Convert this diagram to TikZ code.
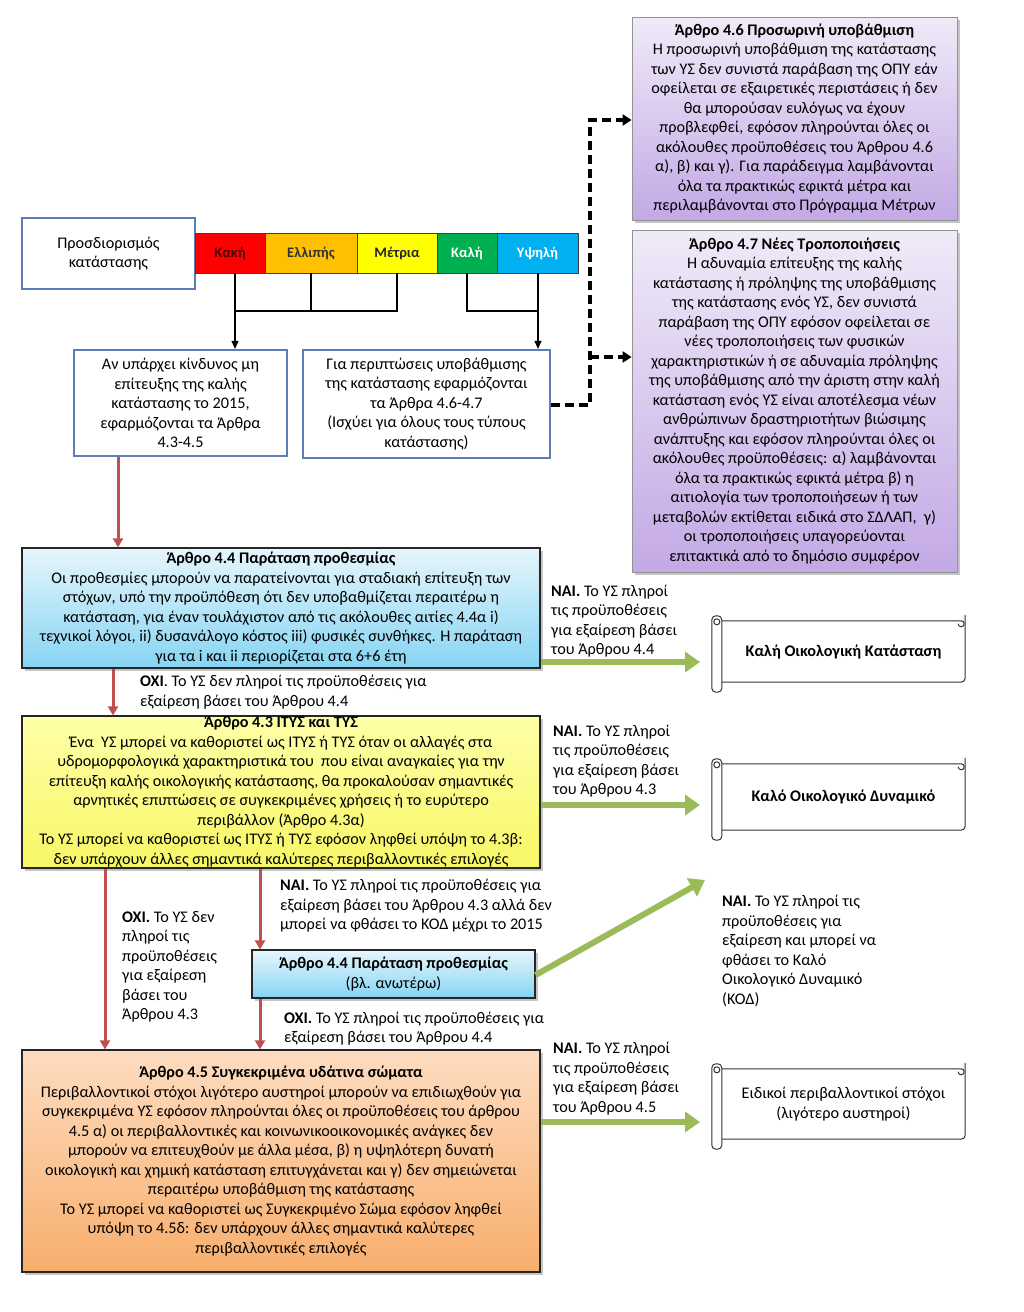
\documentclass[tikz,border=0pt]{standalone}
\usepackage{fontspec}
\setmainfont{Carlito}
\usetikzlibrary{shadows,arrows.meta,calc}
\definecolor{redA}{HTML}{C0504D}
\definecolor{greenA}{HTML}{9BBB59}
\definecolor{blueB}{HTML}{5B7FB5}
\definecolor{purpTop}{HTML}{F0EAF8}
\definecolor{purpBot}{HTML}{C3A9E5}
\definecolor{cyTop}{HTML}{E6F6FC}
\definecolor{cyBot}{HTML}{86D4F3}
\definecolor{yeTop}{HTML}{FFFFA8}
\definecolor{yeBot}{HTML}{F7F766}
\definecolor{orTop}{HTML}{FDDCC0}
\definecolor{orBot}{HTML}{F8AE6C}
\definecolor{segR}{HTML}{FF0000}
\definecolor{segO}{HTML}{FFC000}
\definecolor{segY}{HTML}{FFFF00}
\definecolor{segG}{HTML}{00B050}
\definecolor{segC}{HTML}{00B0F0}
\newcommand\drawscroll[1]{%
  \draw[scrollline,rounded corners=4pt] ($(#1.north east)+(0,-6)$) -- (#1.south east) -- (#1.south west);
  \draw[scrollline] (#1.north west) -- ($(#1.north east)+(-4,0)$) arc[start angle=270, end angle=450, x radius=3pt, y radius=-3pt] arc[start angle=90, end angle=180, x radius=3pt, y radius=-3pt];
  \draw[scrollline,fill=white,rounded corners=4pt] ($(#1.north west)+(-10,-5)$) rectangle ($(#1.south west)+(0,10)$);
  \draw[scrollline] ($(#1.north west)+(-5,1)$) circle (3pt);
}
\begin{document}
\begin{tikzpicture}[x=1pt,y=-1pt,
  txt/.style={font=\fontsize{16.2}{19.5}\selectfont, align=center, inner sep=0pt},
  lbl/.style={font=\fontsize{16.2}{19.5}\selectfont, align=left, inner sep=0pt, anchor=west},
  shad/.style={drop shadow={shadow xshift=2.5pt, shadow yshift=-2.5pt, opacity=0.45}},
  bluebox/.style={txt, draw=blueB, line width=2.2pt, fill=white},
  purplebox/.style={txt, draw=gray!85, line width=0.8pt, top color=purpTop, bottom color=purpBot, shad},
  cyanbox/.style={txt, draw=black!85, line width=1.2pt, top color=cyTop, bottom color=cyBot, shad},
  yellowbox/.style={txt, draw=black!85, line width=1.2pt, top color=yeTop, bottom color=yeBot, shad},
  orangebox/.style={txt, draw=black!85, line width=1.2pt, top color=orTop, bottom color=orBot, shad},
  seg/.style={draw=black!75, line width=0.8pt, minimum height=40pt, inner sep=0pt, font=\fontsize{14.5}{16}\selectfont\bfseries},
  scrollnode/.style={txt, fill=white, inner sep=0pt},
  scrollline/.style={draw=black!80, line width=1pt},
  blk/.style={draw=black, line width=1.1pt},
  blkarrow/.style={blk, -{Triangle[width=7pt,length=8pt]}},
  redarrow/.style={draw=redA, line width=3pt, -{Triangle[width=10pt,length=9pt]}},
  greenarrow/.style={draw=greenA, line width=6pt, -{Triangle[width=20pt,length=15pt]}},
  dashline/.style={draw=black, line width=3.5pt, dash pattern=on 9pt off 5pt},
  dasharrow/.style={dashline, -{Triangle[width=11pt,length=9pt]}}
]
\useasboundingbox (0,0) rectangle (1024,1312);
\fill[white] (0,0) rectangle (1024,1312);

% purple boxes
\node[purplebox, minimum width=325pt, minimum height=203pt] (p46) at (794.5,118.5) {%
\textbf{Άρθρο 4.6 Προσωρινή υποβάθμιση}\\
Η προσωρινή υποβάθμιση της κατάστασης\\
των ΥΣ δεν συνιστά παράβαση της ΟΠΥ εάν\\
οφείλεται σε εξαιρετικές περιστάσεις ή δεν\\
θα μπορούσαν ευλόγως να έχουν\\
προβλεφθεί, εφόσον πληρούνται όλες οι\\
ακόλουθες προϋποθέσεις του Άρθρου 4.6\\
α), β) και γ). Για παράδειγμα λαμβάνονται\\
όλα τα πρακτικώς εφικτά μέτρα και\\
περιλαμβάνονται στο Πρόγραμμα Μέτρων};
\node[purplebox, minimum width=325pt, minimum height=342pt] (p47) at (794.5,401) {%
\textbf{Άρθρο 4.7 Νέες Τροποποιήσεις}\\
Η αδυναμία επίτευξης της καλής\\
κατάστασης ή πρόληψης της υποβάθμισης\\
της κατάστασης ενός ΥΣ, δεν συνιστά\\
παράβαση της ΟΠΥ εφόσον οφείλεται σε\\
νέες τροποποιήσεις των φυσικών\\
χαρακτηριστικών ή σε αδυναμία πρόληψης\\
της υποβάθμισης από την άριστη στην καλή\\
κατάσταση ενός ΥΣ είναι αποτέλεσμα νέων\\
ανθρώπινων δραστηριοτήτων βιώσιμης\\
ανάπτυξης και εφόσον πληρούνται όλες οι\\
ακόλουθες προϋποθέσεις: α) λαμβάνονται\\
όλα τα πρακτικώς εφικτά μέτρα β) η\\
αιτιολογία των τροποποιήσεων ή των\\
μεταβολών εκτίθεται ειδικά στο ΣΔΛΑΠ,\ \ γ)\\
οι τροποποιήσεις υπαγορεύονται\\
επιτακτικά από το δημόσιο συμφέρον};

% status row
\node[bluebox, minimum width=173pt, minimum height=71pt] (st) at (108.5,253.5) {Προσδιορισμός\\κατάστασης};
\node[seg, fill=segR, minimum width=70pt, text=black!70!red] (sK) at (230,253) {Κακή};
\node[seg, fill=segO, minimum width=92pt, text=black!80] (sE) at (311,253) {Ελλιπής};
\node[seg, fill=segY, minimum width=80pt, text=black!85] (sM) at (397,253) {Μέτρια};
\node[seg, fill=segG, minimum width=60pt, text=white] (sKa) at (467,253) {Καλή};
\node[seg, fill=segC, minimum width=81pt, text=white] (sY) at (537.5,253) {Υψηλή};

% blue boxes
\node[bluebox, minimum width=213pt, minimum height=106pt] (pA) at (180.5,403) {%
Αν υπάρχει κίνδυνος μη\\επίτευξης της καλής\\κατάστασης το 2015,\\εφαρμόζονται τα Άρθρα\\4.3-4.5};
\node[bluebox, minimum width=247pt, minimum height=108pt] (pB) at (426.5,404) {%
Για περιπτώσεις υποβάθμισης\\της κατάστασης εφαρμόζονται\\τα Άρθρα 4.6-4.7\\(Ισχύει για όλους τους τύπους\\κατάστασης)};

% bracket connectors
\coordinate (jL) at (235,311);
\coordinate (jR) at (538,311);
\draw[blk] (sK.south -| jL) -- (jL) -- (sM.south |- jL) -- (sM.south);
\draw[blk] (sE.south) -- (sE.south |- jL);
\draw[blkarrow] (jL) -- (pA.north -| jL);
\draw[blk] (sKa.south) -- (sKa.south |- jR) -- (jR);
\draw[blkarrow] (sY.south -| jR) -- (pB.north -| jR);

% dashed connector
\coordinate (dj) at (590,405);
\coordinate (dt) at (590,120);
\coordinate (dm) at (590,357);
\draw[dasharrow] (pB.east |- dj) -- (dj) -- (dt) -- (p46.west |- dt);
\draw[dasharrow] (dm) -- (p47.west |- dm);

% article 4.4
\node[cyanbox, minimum width=518pt, minimum height=120pt] (p44) at (281,608) {%
\textbf{Άρθρο 4.4 Παράταση προθεσμίας}\\
Οι προθεσμίες μπορούν να παρατείνονται για σταδιακή επίτευξη των\\
στόχων, υπό την προϋπόθεση ότι δεν υποβαθμίζεται περαιτέρω η\\
κατάσταση, για έναν τουλάχιστον από τις ακόλουθες αιτίες 4.4α i)\\
τεχνικοί λόγοι, ii) δυσανάλογο κόστος iii) φυσικές συνθήκες. Η παράταση\\
για τα i και ii περιορίζεται στα 6+6 έτη};

% article 4.3
\node[yellowbox, minimum width=518pt, minimum height=152pt] (p43) at (281,792) {%
\textbf{Άρθρο 4.3 ΙΤΥΣ και ΤΥΣ}\\
Ένα\ \ ΥΣ μπορεί να καθοριστεί ως ΙΤΥΣ ή ΤΥΣ όταν οι αλλαγές στα\\
υδρομορφολογικά χαρακτηριστικά του\ \ που είναι αναγκαίες για την\\
επίτευξη καλής οικολογικής κατάστασης, θα προκαλούσαν σημαντικές\\
αρνητικές επιπτώσεις σε συγκεκριμένες χρήσεις ή το ευρύτερο\\
περιβάλλον (Άρθρο 4.3α)\\
Το ΥΣ μπορεί να καθοριστεί ως ΙΤΥΣ ή ΤΥΣ εφόσον ληφθεί υπόψη το 4.3β:\\
δεν υπάρχουν άλλες σημαντικά καλύτερες περιβαλλοντικές επιλογές};

% small 4.4
\node[cyanbox, minimum width=283pt, minimum height=48pt] (p44b) at (393.5,974) {%
\textbf{Άρθρο 4.4 Παράταση προθεσμίας}\\(βλ. ανωτέρω)};

% article 4.5
\node[orangebox, minimum width=518pt, minimum height=222pt] (p45) at (281,1161) {%
\textbf{Άρθρο 4.5 Συγκεκριμένα υδάτινα σώματα}\\
Περιβαλλοντικοί στόχοι λιγότερο αυστηροί μπορούν να επιδιωχθούν για\\
συγκεκριμένα ΥΣ εφόσον πληρούνται όλες οι προϋποθέσεις του άρθρου\\
4.5 α) οι περιβαλλοντικές και κοινωνικοοικονομικές ανάγκες δεν\\
μπορούν να επιτευχθούν με άλλα μέσα, β) η υψηλότερη δυνατή\\
οικολογική και χημική κατάσταση επιτυγχάνεται και γ) δεν σημειώνεται\\
περαιτέρω υποβάθμιση της κατάστασης\\
Το ΥΣ μπορεί να καθοριστεί ως Συγκεκριμένο Σώμα εφόσον ληφθεί\\
υπόψη το 4.5δ: δεν υπάρχουν άλλες σημαντικά καλύτερες\\
περιβαλλοντικές επιλογές};

% scrolls
\node[scrollnode, minimum width=243pt, minimum height=61pt] (s1) at (843.5,651.5) {\textbf{Καλή Οικολογική Κατάσταση}};
\drawscroll{s1}
\node[scrollnode, minimum width=243pt, minimum height=66pt] (s2) at (843.5,797) {\textbf{Καλό Οικολογικό Δυναμικό}};
\drawscroll{s2}
\node[scrollnode, minimum width=243pt, minimum height=70pt] (s3) at (843.5,1104) {Ειδικοί περιβαλλοντικοί στόχοι\\(λιγότερο αυστηροί)};
\drawscroll{s3}

% red arrows
\draw[redarrow] (pA.south -| 118,0) -- (p44.north -| 118,0);
\draw[redarrow] (p44.south -| 113,0) -- (p43.north -| 113,0);
\draw[redarrow] (p43.south -| 105,0) -- (p45.north -| 105,0);
\draw[redarrow] (p43.south -| 260,0) -- (p44b.north -| 260,0);
\draw[redarrow] (p44b.south -| 260,0) -- (p45.north -| 260,0);

% green arrows
\coordinate (kod) at (705,880);
\coordinate (g1) at (700,662);
\coordinate (g2) at (700,805);
\coordinate (g3) at (700,1122);
\draw[greenarrow] (p44.east |- g1) -- (g1);
\draw[greenarrow] (p43.east |- g2) -- (g2);
\draw[greenarrow] (p44b.east |- 0,975) -- (kod);
\draw[greenarrow] (p45.east |- g3) -- (g3);

% labels
\node[lbl] (l1) at (551,621) {\textbf{ΝΑΙ.} Το ΥΣ πληροί\\τις προϋποθέσεις\\για εξαίρεση βάσει\\του Άρθρου 4.4};
\node[lbl] (l2) at (140,692) {\textbf{ΟΧΙ}. Το ΥΣ δεν πληροί τις προϋποθέσεις για\\εξαίρεση βάσει του Άρθρου 4.4};
\node[lbl] (l3) at (553,761) {\textbf{ΝΑΙ.} Το ΥΣ πληροί\\τις προϋποθέσεις\\για εξαίρεση βάσει\\του Άρθρου 4.3};
\node[lbl] (l4) at (122,967) {\textbf{ΟΧΙ.} Το ΥΣ δεν\\πληροί τις\\προϋποθέσεις\\για εξαίρεση\\βάσει του\\Άρθρου 4.3};
\node[lbl] (l5) at (280,906) {\textbf{ΝΑΙ.} Το ΥΣ πληροί τις προϋποθέσεις για\\εξαίρεση βάσει του Άρθρου 4.3 αλλά δεν\\μπορεί να φθάσει το ΚΟΔ μέχρι το 2015};
\node[lbl] (l6) at (722,951) {\textbf{ΝΑΙ.} Το ΥΣ πληροί τις\\προϋποθέσεις για\\εξαίρεση και μπορεί να\\φθάσει το Καλό\\Οικολογικό Δυναμικό\\(ΚΟΔ)};
\node[lbl] (l7) at (284,1028.5) {\textbf{ΟΧΙ.} Το ΥΣ πληροί τις προϋποθέσεις για\\εξαίρεση βάσει του Άρθρου 4.4};
\node[lbl] (l8) at (553,1078.5) {\textbf{ΝΑΙ.} Το ΥΣ πληροί\\τις προϋποθέσεις\\για εξαίρεση βάσει\\του Άρθρου 4.5};
\end{tikzpicture}
\end{document}
